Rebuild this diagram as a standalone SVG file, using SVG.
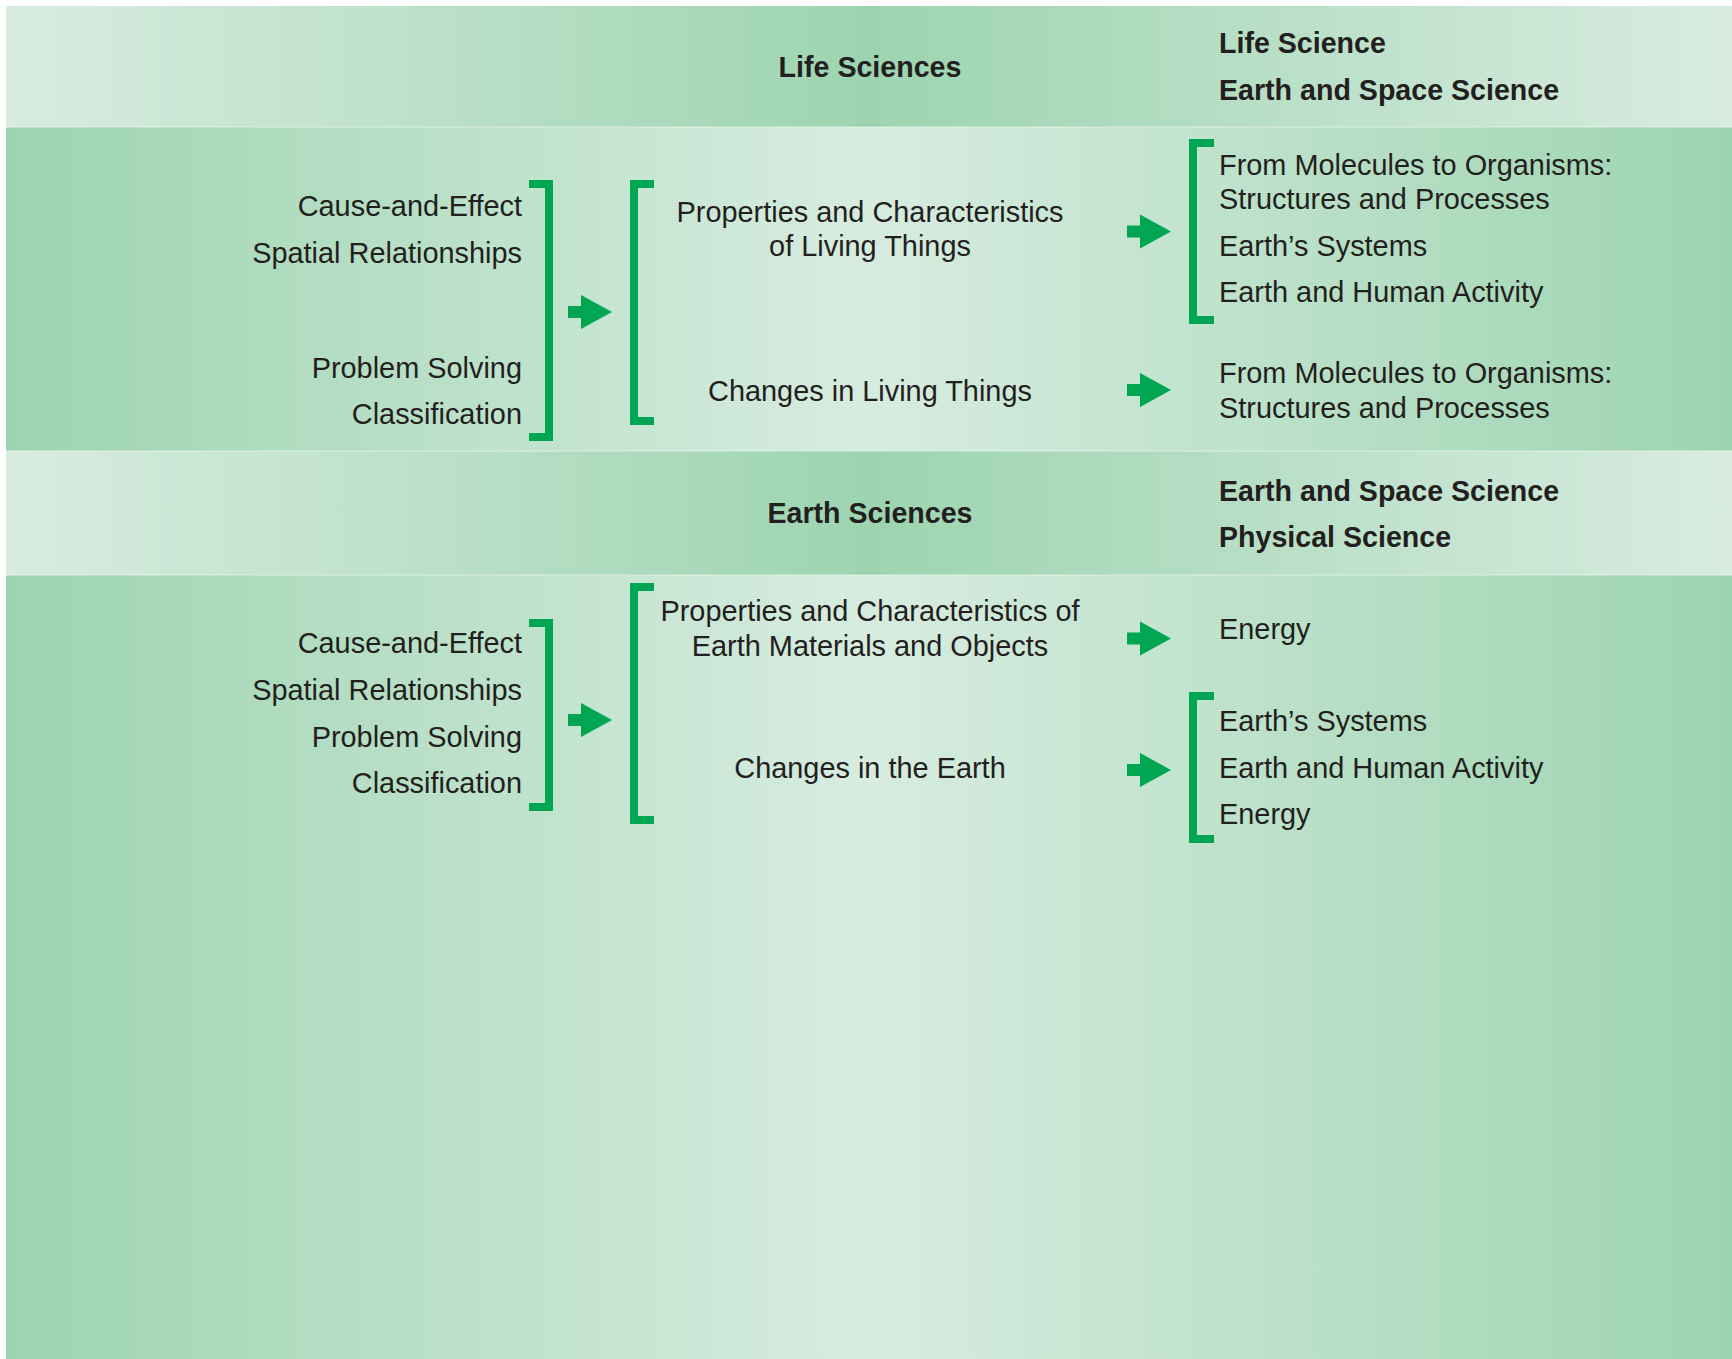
<svg xmlns="http://www.w3.org/2000/svg" xmlns:xlink="http://www.w3.org/1999/xlink" width="1732" height="1359" viewBox="0 0 1732 1359">
<style>
text{font-family:"Liberation Sans",Arial,sans-serif;font-size:28.9px;fill:#231f20}
.b{font-weight:bold;font-size:28.6px}
.r{text-anchor:end}
.c{text-anchor:middle}
.br{fill:none;stroke:#00a651;stroke-width:8}
.ar{fill:#00a651}
</style>
<defs>
<linearGradient id="gh" x1="6" y1="0" x2="1732" y2="0" gradientUnits="userSpaceOnUse">
<stop offset="0" stop-color="#d8ece0"/>
<stop offset="0.5" stop-color="#9dd4b0"/>
<stop offset="1" stop-color="#d8ece0"/>
</linearGradient>
<linearGradient id="gb" x1="6" y1="0" x2="1732" y2="0" gradientUnits="userSpaceOnUse">
<stop offset="0" stop-color="#9dd4b0"/>
<stop offset="0.5" stop-color="#d7ece0"/>
<stop offset="1" stop-color="#9dd4b0"/>
</linearGradient>
<path id="arrow" class="ar" d="M0,-6 H13 V-17 L44,0 L13,17 V6 H0 Z"/>
</defs>
<rect width="1732" height="1359" fill="#ffffff"/>
<g id="bands">
<rect x="6" y="6" width="1726" height="121" fill="url(#gh)"/>
<rect x="6" y="127" width="1726" height="324" fill="url(#gb)"/>
<rect x="6" y="451" width="1726" height="124" fill="url(#gh)"/>
<rect x="6" y="575" width="1726" height="784" fill="url(#gb)"/>
<g stroke="#ffffff" stroke-opacity="0.35" stroke-width="1.5">
<line x1="6" y1="127" x2="1732" y2="127"/>
<line x1="6" y1="451" x2="1732" y2="451"/>
<line x1="6" y1="575" x2="1732" y2="575"/>
</g>
</g>
<g id="header-life">
<text class="b c" x="870" y="77">Life Sciences</text>
<text class="b" x="1219" y="53">Life Science</text>
<text class="b" x="1219" y="100">Earth and Space Science</text>
</g>
<g id="life-skills">
<text class="r" x="522" y="216">Cause-and-Effect</text>
<text class="r" x="522" y="263">Spatial Relationships</text>
<text class="r" x="522" y="378">Problem Solving</text>
<text class="r" x="522" y="424">Classification</text>
<path class="br" d="M529,184 H549 V437 H529"/>
</g>
<g id="life-topics">
<path class="br" d="M654,184 H634 V421 H654"/>
<text class="c" x="870" y="222">Properties and Characteristics</text>
<text class="c" x="870" y="256">of Living Things</text>
<text class="c" x="870" y="401">Changes in Living Things</text>
</g>
<g id="life-standards-1">
<path class="br" d="M1214,143 H1193 V320 H1214"/>
<text x="1219" y="175">From Molecules to Organisms:</text>
<text x="1219" y="209">Structures and Processes</text>
<text x="1219" y="256">Earth’s Systems</text>
<text x="1219" y="302">Earth and Human Activity</text>
</g>
<g id="life-standards-2">
<text x="1219" y="383">From Molecules to Organisms:</text>
<text x="1219" y="418">Structures and Processes</text>
</g>
<g id="header-earth">
<text class="b c" x="870" y="523">Earth Sciences</text>
<text class="b" x="1219" y="501">Earth and Space Science</text>
<text class="b" x="1219" y="547">Physical Science</text>
</g>
<g id="earth-skills">
<text class="r" x="522" y="653">Cause-and-Effect</text>
<text class="r" x="522" y="700">Spatial Relationships</text>
<text class="r" x="522" y="747">Problem Solving</text>
<text class="r" x="522" y="793">Classification</text>
<path class="br" d="M529,623 H549 V807 H529"/>
</g>
<g id="earth-topics">
<path class="br" d="M654,587 H634 V820 H654"/>
<text class="c" x="870" y="621">Properties and Characteristics of</text>
<text class="c" x="870" y="656">Earth Materials and Objects</text>
<text class="c" x="870" y="778">Changes in the Earth</text>
</g>
<g id="earth-standards-1">
<text x="1219" y="639">Energy</text>
</g>
<g id="earth-standards-2">
<path class="br" d="M1214,696 H1193 V839 H1214"/>
<text x="1219" y="731">Earth’s Systems</text>
<text x="1219" y="778">Earth and Human Activity</text>
<text x="1219" y="824">Energy</text>
</g>
<g id="connectors">
<use xlink:href="#arrow" x="568" y="312"/>
<use xlink:href="#arrow" x="1127" y="231.5"/>
<use xlink:href="#arrow" x="1127" y="390"/>
<use xlink:href="#arrow" x="568" y="720"/>
<use xlink:href="#arrow" x="1127" y="638.5"/>
<use xlink:href="#arrow" x="1127" y="770"/>
</g>
</svg>
